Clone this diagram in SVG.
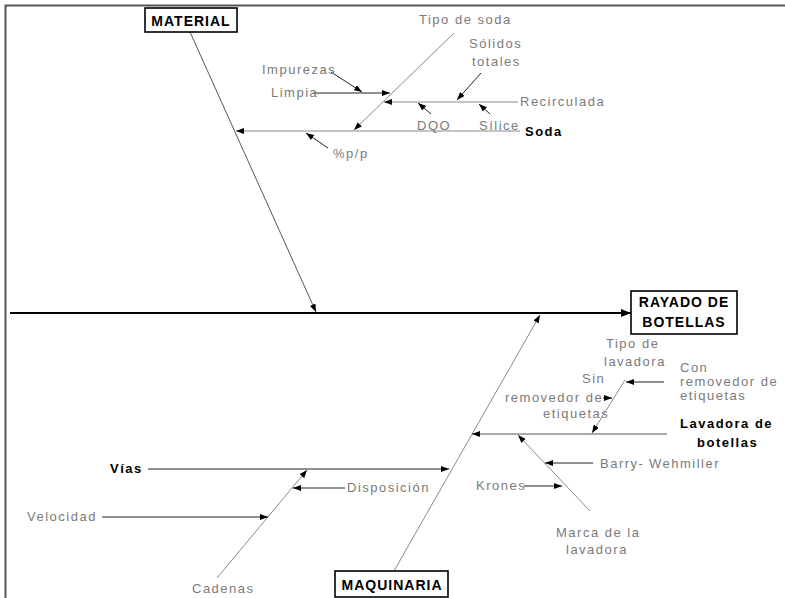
<svg xmlns="http://www.w3.org/2000/svg" width="785" height="598" viewBox="0 0 785 598">
  <style>
    .lbl { font-family: "Liberation Sans", Arial, sans-serif; font-size: 13px; letter-spacing: 1.5px; fill: #7a7a7a; }
    .bold { font-family: "Liberation Sans", Arial, sans-serif; font-size: 13px; font-weight: bold; letter-spacing: 1.5px; fill: #000; }
    .head { font-family: "Liberation Sans", Arial, sans-serif; font-size: 14px; font-weight: bold; letter-spacing: 1px; fill: #000; }
    .box { fill: #fff; stroke: #000; stroke-width: 1.6; }
    .frame { stroke: #555; stroke-width: 2; fill: none; }
    .c { fill: none; stroke-width: 1; }
    .k { stroke: #222; }
    .g { stroke: #8a8a8a; }
    .m { stroke: #555; }
    .spine { stroke: #000; stroke-width: 2; fill: none; }
  </style>
  <defs>
    <marker id="ah" viewBox="0 0 8 6" refX="8" refY="3" markerWidth="8" markerHeight="6" markerUnits="userSpaceOnUse" orient="auto">
      <path d="M0,0 L8,3 L0,6 z" fill="#000"/>
    </marker>
    <marker id="ahBig" viewBox="0 0 10 8" refX="10" refY="4" markerWidth="10" markerHeight="8" markerUnits="userSpaceOnUse" orient="auto">
      <path d="M0,0 L10,4 L0,8 z" fill="#000"/>
    </marker>
  </defs>

  <rect width="785" height="598" fill="#fff"/>
  <!-- page frame -->
  <path class="frame" d="M5.5,598 V5.5 H785"/>

  <g id="connectors">
    <!-- main spine -->
    <line class="spine" x1="10" y1="313" x2="631" y2="313" marker-end="url(#ahBig)"/>

    <!-- MATERIAL branch -->
    <line class="c m" x1="190" y1="32" x2="316" y2="312" marker-end="url(#ah)"/>
    <line class="c g" x1="520" y1="131" x2="236" y2="131" marker-end="url(#ah)"/>
    <line class="c g" x1="454" y1="33" x2="354" y2="130" marker-end="url(#ah)"/>
    <line class="c k" x1="313" y1="93" x2="390" y2="93" marker-end="url(#ah)"/>
    <line class="c k" x1="331" y1="72" x2="362" y2="92" marker-end="url(#ah)"/>
    <line class="c g" x1="518" y1="102" x2="384" y2="102" marker-end="url(#ah)"/>
    <line class="c k" x1="481" y1="73" x2="457" y2="100" marker-end="url(#ah)"/>
    <line class="c k" x1="431" y1="114" x2="418" y2="103" marker-end="url(#ah)"/>
    <line class="c k" x1="490" y1="114" x2="479" y2="104" marker-end="url(#ah)"/>
    <line class="c k" x1="328" y1="148" x2="306" y2="133" marker-end="url(#ah)"/>

    <!-- MAQUINARIA branch -->
    <line class="c g" x1="394" y1="571" x2="540" y2="315" marker-end="url(#ah)"/>
    <line class="c k" x1="148" y1="469" x2="449" y2="469" marker-end="url(#ah)"/>
    <line class="c g" x1="217" y1="578" x2="307" y2="470" marker-end="url(#ah)"/>
    <line class="c k" x1="345" y1="488" x2="293" y2="488" marker-end="url(#ah)"/>
    <line class="c k" x1="102" y1="517" x2="268" y2="517" marker-end="url(#ah)"/>
    <line class="c m" x1="667" y1="434" x2="472" y2="434" marker-end="url(#ah)"/>
    <line class="c g" x1="625" y1="380" x2="592" y2="433" marker-end="url(#ah)"/>
    <line class="c k" x1="664" y1="382" x2="626" y2="382" marker-end="url(#ah)"/>
    <line class="c k" x1="603" y1="398" x2="612" y2="398" marker-end="url(#ah)"/>
    <line class="c g" x1="590" y1="511" x2="518" y2="435" marker-end="url(#ah)"/>
    <line class="c k" x1="593" y1="463" x2="545" y2="463" marker-end="url(#ah)"/>
    <line class="c k" x1="524" y1="486" x2="562" y2="486" marker-end="url(#ah)"/>
  </g>

  <g id="effect">
    <rect class="box" x="631" y="291" width="106" height="43"/>
    <text class="head" x="684" y="307" text-anchor="middle">RAYADO DE</text>
    <text class="head" x="684" y="327" text-anchor="middle">BOTELLAS</text>
  </g>

  <g id="material">
    <rect class="box" x="145" y="8" width="92" height="24"/>
    <text class="head" x="191" y="26" text-anchor="middle">MATERIAL</text>
  </g>

  <g id="soda">
    <text class="bold" x="525" y="136">Soda</text>
  </g>
  <g id="tipo-de-soda"><text class="lbl" x="419" y="24">Tipo de soda</text></g>
  <g id="solidos-totales">
    <text class="lbl" x="469" y="48">Sólidos</text>
    <text class="lbl" x="472" y="66">totales</text>
  </g>
  <g id="impurezas"><text class="lbl" x="262" y="74">Impurezas</text></g>
  <g id="limpia"><text class="lbl" x="271" y="97">Limpia</text></g>
  <g id="recirculada"><text class="lbl" x="520" y="106">Recirculada</text></g>
  <g id="dqo"><text class="lbl" x="417" y="130">DQO</text></g>
  <g id="silice"><text class="lbl" x="479" y="130">Sílice</text></g>
  <g id="porcentaje"><text class="lbl" x="333" y="158">%p/p</text></g>

  <g id="maquinaria">
    <rect class="box" x="335" y="571" width="113" height="26"/>
    <text class="head" x="392" y="590" text-anchor="middle">MAQUINARIA</text>
  </g>
  <g id="vias"><text class="bold" x="110" y="473">Vías</text></g>
  <g id="disposicion"><text class="lbl" x="347" y="492">Disposición</text></g>
  <g id="velocidad"><text class="lbl" x="27" y="521">Velocidad</text></g>
  <g id="cadenas"><text class="lbl" x="192" y="593">Cadenas</text></g>

  <g id="lavadora">
    <text class="bold" x="680" y="428">Lavadora de</text>
    <text class="bold" x="697" y="447">botellas</text>
  </g>
  <g id="tipo-de-lavadora">
    <text class="lbl" x="606" y="348">Tipo de</text>
    <text class="lbl" x="604" y="366">lavadora</text>
  </g>
  <g id="con-removedor">
    <text class="lbl" x="680" y="372">Con</text>
    <text class="lbl" x="680" y="386">removedor de</text>
    <text class="lbl" x="680" y="400">etiquetas</text>
  </g>
  <g id="sin-removedor">
    <text class="lbl" x="582" y="383">Sin</text>
    <text class="lbl" x="505" y="402">removedor de</text>
    <text class="lbl" x="543" y="418">etiquetas</text>
  </g>
  <g id="barry-wehmiller">
    <text class="lbl" x="600" y="468">Barry-</text>
    <text class="lbl" x="649" y="468">Wehmiller</text>
  </g>
  <g id="krones"><text class="lbl" x="476" y="490">Krones</text></g>
  <g id="marca">
    <text class="lbl" x="556" y="537">Marca de la</text>
    <text class="lbl" x="566" y="554">lavadora</text>
  </g>
</svg>
